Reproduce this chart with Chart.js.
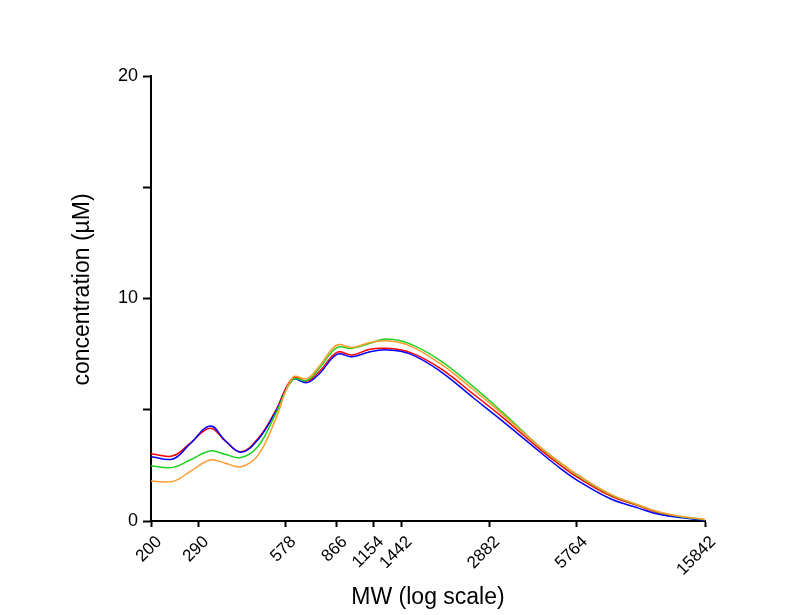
<!DOCTYPE html>
<html>
<head>
<meta charset="utf-8">
<script src="https://cdn.jsdelivr.net/npm/chart.js@4.4.1/dist/chart.umd.min.js"></script>
<style>
  html, body { margin: 0; padding: 0; background: #ffffff; }
  canvas { display: block; }
</style>
</head>
<body>
<canvas id="c" width="801" height="615"></canvas>
<script>
// ---- data ----
const mw        = [200, 238, 272, 319, 359, 407, 465, 532, 613, 685, 759, 868, 977, 1126, 1287, 1544, 1956, 2538, 3268, 4307, 5044, 5764, 7482, 9370, 11103, 13520, 15842];
const redVals    = [3.02, 2.93, 3.49, 4.17, 3.60, 3.11, 3.70, 4.90, 6.44, 6.29, 6.75, 7.58, 7.46, 7.72, 7.76, 7.58, 6.87, 5.72, 4.57, 3.22, 2.52, 1.98, 1.14, 0.68, 0.35, 0.16, 0.05];
const blueVals   = [2.89, 2.79, 3.46, 4.27, 3.62, 3.09, 3.65, 4.85, 6.36, 6.22, 6.65, 7.49, 7.38, 7.61, 7.69, 7.51, 6.74, 5.55, 4.40, 3.10, 2.38, 1.84, 1.01, 0.58, 0.29, 0.13, 0.04];
const greenVals  = [2.47, 2.41, 2.74, 3.15, 3.00, 2.85, 3.35, 4.75, 6.36, 6.32, 6.90, 7.79, 7.76, 7.99, 8.18, 7.96, 7.22, 6.05, 4.78, 3.32, 2.62, 2.07, 1.20, 0.71, 0.38, 0.17, 0.06];
const orangeVals = [1.80, 1.78, 2.22, 2.74, 2.60, 2.44, 2.95, 4.50, 6.46, 6.40, 7.00, 7.91, 7.80, 8.02, 8.10, 7.87, 7.08, 5.92, 4.70, 3.33, 2.64, 2.10, 1.22, 0.72, 0.39, 0.18, 0.07];
const xTickValues = [200, 290, 578, 866, 1154, 1442, 2882, 5764, 15842];
const yTickLabels = [0, 10, 20];

const pts = vals => mw.map((m, i) => ({ x: m, y: vals[i] }));
const FONT = "Arial, 'Liberation Sans', sans-serif";

function ds(vals, color) {
  return {
    data: pts(vals),
    borderColor: color,
    borderWidth: 1.5,
    pointRadius: 0,
    fill: false,
    tension: 0.4
  };
}

new Chart(document.getElementById('c'), {
  type: 'line',
  data: {
    datasets: [
      ds(orangeVals, '#ff9a2e'),
      ds(greenVals, '#1ed21e'),
      ds(blueVals, '#0000ff'),
      ds(redVals, '#ff0000')
    ]
  },
  options: {
    responsive: false,
    devicePixelRatio: 1,
    animation: false,
    layout: { padding: { left: 0, top: 76, right: 96, bottom: 0 } },
    plugins: { legend: { display: false }, tooltip: { enabled: false } },
    scales: {
      x: {
        type: 'logarithmic',
        min: 200,
        max: 15842,
        afterBuildTicks: s => { s.ticks = xTickValues.map(v => ({ value: v })); },
        afterFit: s => { s.height = 94; },
        border: { display: true, color: '#000', width: 2 },
        grid: { drawOnChartArea: false, drawTicks: true, tickLength: 6, tickColor: '#000', tickWidth: 2 },
        ticks: {
          autoSkip: false,
          minRotation: 45,
          maxRotation: 45,
          color: '#000',
          padding: 5,
          labelOffset: 8,
          font: { family: FONT, size: 17 },
          callback: v => String(v)
        },
        title: {
          display: true,
          text: 'MW (log scale)',
          color: '#000',
          font: { family: FONT, size: 23 },
          padding: { top: 0, bottom: 4 }
        }
      },
      y: {
        type: 'linear',
        min: 0,
        max: 20,
        afterFit: s => {
          s.width = 151;
          // lift the axis title slightly, as in the reference
          const proto = Object.getPrototypeOf(s);
          s.drawTitle = function () {
            this.ctx.save();
            this.ctx.translate(0, -9);
            proto.drawTitle.call(this);
            this.ctx.restore();
          };
        },
        border: { display: true, color: '#000', width: 2 },
        grid: { drawOnChartArea: false, drawTicks: true, tickLength: 8, tickColor: '#000', tickWidth: 2 },
        ticks: {
          stepSize: 5,
          color: '#000',
          padding: 5,
          font: { family: FONT, size: 18 },
          callback: v => (yTickLabels.includes(v) ? String(v) : '')
        },
        title: {
          display: true,
          text: 'concentration (µM)',
          color: '#000',
          font: { family: FONT, size: 23 },
          padding: { top: 69, bottom: 0 }
        }
      }
    }
  }
});
</script>
</body>
</html>
